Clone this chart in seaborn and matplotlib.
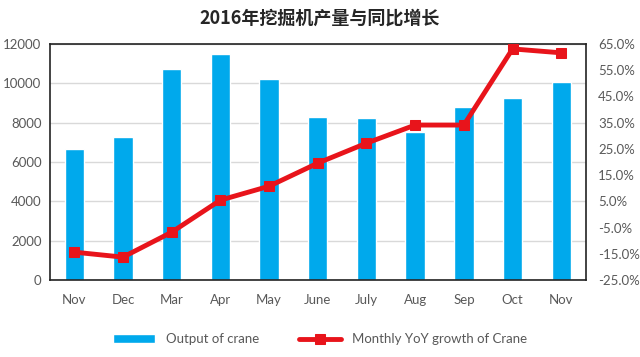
import numpy as np
import pandas as pd
import matplotlib
matplotlib.use("Agg")
import matplotlib.pyplot as plt
import seaborn as sns
from matplotlib.ticker import FuncFormatter

# dane
months = ['Nov', 'Dec', 'Mar', 'Apr', 'May', 'June', 'July', 'Aug', 'Sep', 'Oct', 'Nov']
output = [6650, 7270, 10730, 11490, 10220, 8290, 8240, 7520, 8800, 9250, 10070]
yoy = [-14.3, -16.2, -6.7, 5.5, 10.8, 19.6, 27.2, 34.1, 34.1, 63.1, 61.6]

df = pd.DataFrame({'idx': np.arange(len(months)), 'output': output, 'yoy': yoy})

sns.set_style('white')
plt.rcParams['font.family'] = ['Lato', 'Noto Sans CJK SC', 'DejaVu Sans']

fig, ax = plt.subplots(figsize=(6.4, 3.57), dpi=100)
fig.subplots_adjust(left=0.078, right=0.915, top=0.877, bottom=0.215)

sns.barplot(data=df, x='idx', y='output', color='#00A9EC', width=0.4,
            saturation=1, ax=ax, label='Output of crane', zorder=2)
ax.set_ylim(0, 12000)
ax.set_yticks(range(0, 12001, 2000))
ax.set_xticks(range(len(months)))
ax.set_xticklabels(months)
ax.set_xlim(-0.5, len(months) - 0.5)
ax.yaxis.grid(True, color='#D9D9D9', linewidth=1, zorder=0)
ax.set_axisbelow(True)
ax.set_xlabel('')
ax.set_ylabel('')
ax.tick_params(axis='both', labelsize=9.5, colors='#595959', length=0)
ax.tick_params(axis='x', pad=10)
ax.tick_params(axis='y', pad=6)
for s in ax.spines.values():
    s.set_color('#222222')
    s.set_linewidth(1.2)
if ax.get_legend() is not None:
    ax.get_legend().remove()

ax2 = ax.twinx()
sns.lineplot(data=df, x='idx', y='yoy', color='#E8141B', linewidth=3.5,
             marker='s', markersize=7.5, markeredgecolor='#E8141B',
             ax=ax2, label='Monthly YoY growth of Crane')
ax2.set_ylim(-25, 65)
ax2.set_yticks(np.arange(-25, 66, 10))
ax2.yaxis.set_major_formatter(FuncFormatter(lambda v, p: f'{v:.1f}%'))
ax2.set_ylabel('')
ax2.set_xlabel('')
ax2.tick_params(axis='y', labelsize=9.5, colors='#595959', length=0, pad=9)
for s in ax2.spines.values():
    s.set_visible(False)
ax2.get_legend().remove()

h1, l1 = ax.get_legend_handles_labels()
h2, l2 = ax2.get_legend_handles_labels()
fig.legend(h1 + h2, l1 + l2, loc='lower center', ncol=2, frameon=False,
           fontsize=9.5, bbox_to_anchor=(0.5, 0.0), handlelength=3.2,
           columnspacing=3, labelcolor='#595959')

fig.suptitle('2016年挖掘机产量与同比增长', fontsize=13, fontweight='bold', y=0.975,
             family=['Noto Sans CJK SC', 'DejaVu Sans'])

fig.savefig('out.png', dpi=100)
